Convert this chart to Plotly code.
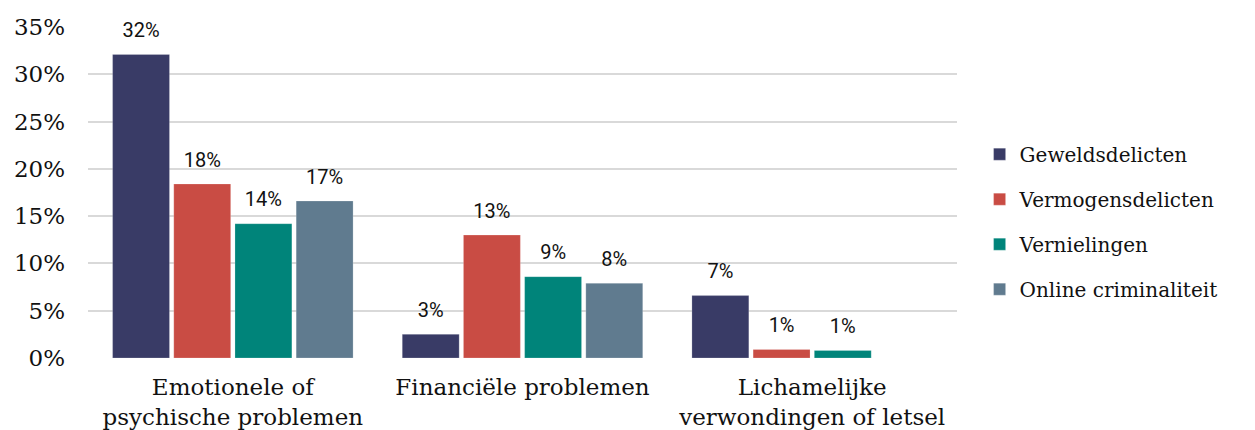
import plotly.graph_objects as go

# Share of victims reporting each type of consequence, per crime type (%)
categories = [
    "Emotionele of<br>psychische problemen",
    "Financiële problemen",
    "Lichamelijke<br>verwondingen of letsel",
]
geweldsdelicten = [32.1, 2.5, 6.6]
vermogensdelicten = [18.4, 13.0, 0.9]
vernielingen = [14.2, 8.6, 0.8]
online_criminaliteit = [16.6, 7.9, None]

series_names = ["Geweldsdelicten", "Vermogensdelicten", "Vernielingen", "Online criminaliteit"]
series_values = [geweldsdelicten, vermogensdelicten, vernielingen, online_criminaliteit]
series_colors = ["#393b66", "#c94c44", "#00847a", "#607b8f"]

y_ticks = [0, 5, 10, 15, 20, 25, 30, 35]

SERIF = "DejaVu Serif"
SANS = "Roboto"
TEXT = "#111111"
LABEL_PAD = 1.0  # gap (in % units) between a bar top and its value label

fig = go.Figure()
for name, vals, color in zip(series_names, series_values, series_colors):
    fig.add_trace(go.Bar(
        name=name, x=categories, y=vals, marker_color=color,
        marker_line=dict(width=0.6, color="rgba(255,255,255,0.35)"),
        offsetgroup=name, legendgroup=name, hoverinfo="y+name",
    ))
    # transparent spacer sitting on top of each bar that carries the value label
    fig.add_trace(go.Bar(
        x=categories,
        y=[LABEL_PAD if v is not None else None for v in vals],
        base=vals,
        customdata=vals,
        texttemplate="%{customdata:.0f}%",
        textposition="outside",
        textfont=dict(family=SANS, size=20, color=TEXT),
        marker=dict(color="rgba(0,0,0,0)", line=dict(width=0)),
        offsetgroup=name, legendgroup=name, showlegend=False,
        hoverinfo="skip", cliponaxis=False,
    ))

fig.update_layout(
    width=1255, height=430,
    margin=dict(l=88, r=298, t=27, b=72),
    paper_bgcolor="white", plot_bgcolor="white",
    barmode="group", bargap=0.155, bargroupgap=0.07,
    font=dict(family=SERIF, color=TEXT),
    legend=dict(
        x=1.026, xanchor="left", y=0.412, yanchor="middle",
        font=dict(family=SERIF, size=20, color=TEXT),
        traceorder="grouped", tracegroupgap=16,
        bgcolor="rgba(0,0,0,0)",
    ),
    showlegend=True,
)
fig.update_yaxes(
    range=[0, 35], tickvals=y_ticks, ticktext=[f"{t}%" for t in y_ticks],
    showgrid=True, gridcolor="#d9d9d9", gridwidth=1.5, zeroline=False,
    showline=False, ticks="", ticklabelstandoff=22, automargin=False,
    tickfont=dict(family=SERIF, size=23, color=TEXT),
)
fig.update_xaxes(
    showline=False, ticks="", showgrid=False, ticklabelstandoff=13,
    automargin=False,
    tickfont=dict(family=SERIF, size=23, color=TEXT),
)

fig.write_html("out.html")
